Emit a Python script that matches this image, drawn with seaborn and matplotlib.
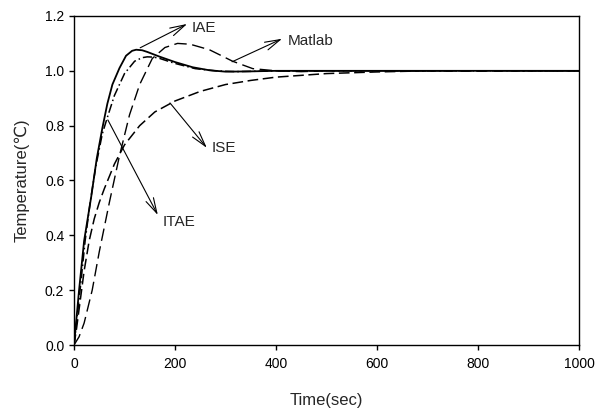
import numpy as np
import pandas as pd
import seaborn as sns
import matplotlib.pyplot as plt

# step responses
t_iae = [0, 5, 10, 20, 34, 45, 56, 66, 76, 90, 103, 115, 123, 135, 145, 169, 200, 235, 268, 300, 350, 400, 600, 1000]
y_iae = [0, 0.10, 0.20, 0.38, 0.54, 0.68, 0.79, 0.88, 0.95, 1.01, 1.055, 1.073, 1.077, 1.075, 1.069, 1.052, 1.032, 1.013, 1.002, 0.997, 0.998, 1.0, 1.0, 1.0]

t_itae = [0, 6, 12, 22, 32, 43, 56, 66, 80, 100, 120, 135, 145, 158, 170, 200, 240, 280, 320, 400, 600, 1000]
y_itae = [0, 0.10, 0.20, 0.38, 0.52, 0.65, 0.77, 0.83, 0.91, 0.99, 1.035, 1.048, 1.051, 1.05, 1.045, 1.027, 1.008, 1.0, 0.997, 1.0, 1.0, 1.0]

t_matlab = [0, 10, 20, 36, 50, 70, 90, 110, 130, 155, 180, 205, 230, 268, 290, 314, 354, 400, 450, 500, 1000]
y_matlab = [0, 0.03, 0.08, 0.20, 0.34, 0.52, 0.69, 0.84, 0.95, 1.045, 1.085, 1.10, 1.097, 1.077, 1.057, 1.035, 1.008, 1.0, 0.997, 1.0, 1.0]

t_ise = [0, 5, 10, 20, 30, 40, 50, 60, 80, 100, 130, 160, 200, 250, 300, 350, 400, 500, 600, 700, 1000]
y_ise = [0, 0.06, 0.13, 0.27, 0.38, 0.46, 0.52, 0.57, 0.66, 0.73, 0.80, 0.85, 0.89, 0.925, 0.95, 0.965, 0.977, 0.99, 0.996, 1.0, 1.0]

sns.set_style("ticks")
plt.rcParams["font.family"] = ["Liberation Sans", "DejaVu Sans"]

fig = plt.figure(figsize=(5.95, 4.08), dpi=100)
ax = fig.add_axes([0.1244, 0.1544, 0.8487, 0.8064])

sns.lineplot(x=t_iae, y=y_iae, ax=ax, color="black", lw=1.3, linestyle="-")
sns.lineplot(x=t_itae, y=y_itae, ax=ax, color="black", lw=1.1, linestyle=(0, (6, 2, 1, 2)))
sns.lineplot(x=t_matlab, y=y_matlab, ax=ax, color="black", lw=1.0, linestyle=(0, (9, 4)))
sns.lineplot(x=t_ise, y=y_ise, ax=ax, color="black", lw=1.1, linestyle=(0, (7, 3)))

ax.set_xlim(0, 1000)
ax.set_ylim(0, 1.2)
ax.set_xticks(np.arange(0, 1001, 200))
ax.set_yticks(np.arange(0, 1.21, 0.2))
ax.set_yticklabels([f"{v:.1f}" for v in np.arange(0, 1.21, 0.2)])
ax.tick_params(direction="out", length=3.5, width=1, labelsize=10, colors="black")
ax.tick_params(axis="x", pad=5)
for s in ax.spines.values():
    s.set_visible(True)
    s.set_color("black")
    s.set_linewidth(1)

ax.set_xlabel("Time(sec)", fontsize=12, labelpad=16)
ax.set_ylabel("Temperature(\u2103)", fontsize=12, labelpad=11)

arrow = dict(arrowstyle="->, head_length=1.1, head_width=0.3", color="black", lw=0.8, shrinkA=0, shrinkB=0)
notes = [
    ("IAE", (131, 1.084), (224, 1.171), (232, 1.157)),
    ("Matlab", (313, 1.033), (412, 1.117), (424, 1.109)),
    ("ISE", (190, 0.883), (263, 0.719), (273, 0.719)),
    ("ITAE", (67, 0.821), (166, 0.474), (176, 0.449)),
]
for label, tail, head, txt in notes:
    ax.annotate("", xy=head, xytext=tail, arrowprops=arrow)
    ax.text(txt[0], txt[1], label, fontsize=11, va="center", ha="left")

fig.savefig("out.png", dpi=100)
